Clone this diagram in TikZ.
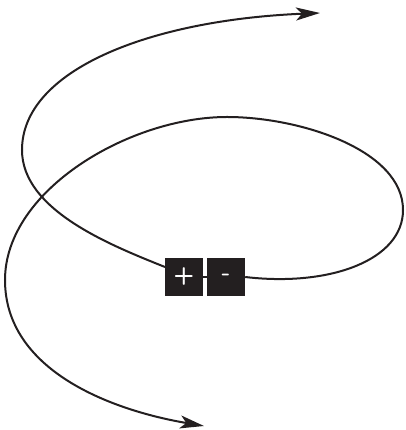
\documentclass[tikz,border=0pt]{standalone}
\usetikzlibrary{arrows.meta}
\definecolor{ink}{HTML}{231F20}
\begin{document}
\begin{tikzpicture}[x=1pt,y=1pt,
  wire/.style={draw=ink,line width=2pt},
  arrowwire/.style={wire,-{Stealth[length=24pt,width=13pt,inset=6pt]}},
  pole/.style={fill=ink,text=white,minimum size=38pt,inner sep=0pt,font=\sffamily\bfseries\fontsize{24}{24}\selectfont}]
\useasboundingbox (0,0) rectangle (405,430);
\node[pole] (plus) at (184,153) {+};
\node[pole] (minus) at (226,153) {-};
\coordinate (astart) at (165,163);
\coordinate (topend) at (320,417);
\coordinate (botend) at (204,4);
\draw[wire] (plus.east) -- (minus.west);
\draw[arrowwire] (astart) .. controls (110,185) and (22,220) .. (22,280)
  .. controls (22,360) and (150,410) .. (topend);
\draw[arrowwire] (minus.east) .. controls (330,143) and (403,170) .. (403,220)
  .. controls (403,280) and (300,313) .. (227,313)
  .. controls (130,313) and (5,240) .. (5,150)
  .. controls (5,60) and (110,20) .. (botend);
\end{tikzpicture}
\end{document}
